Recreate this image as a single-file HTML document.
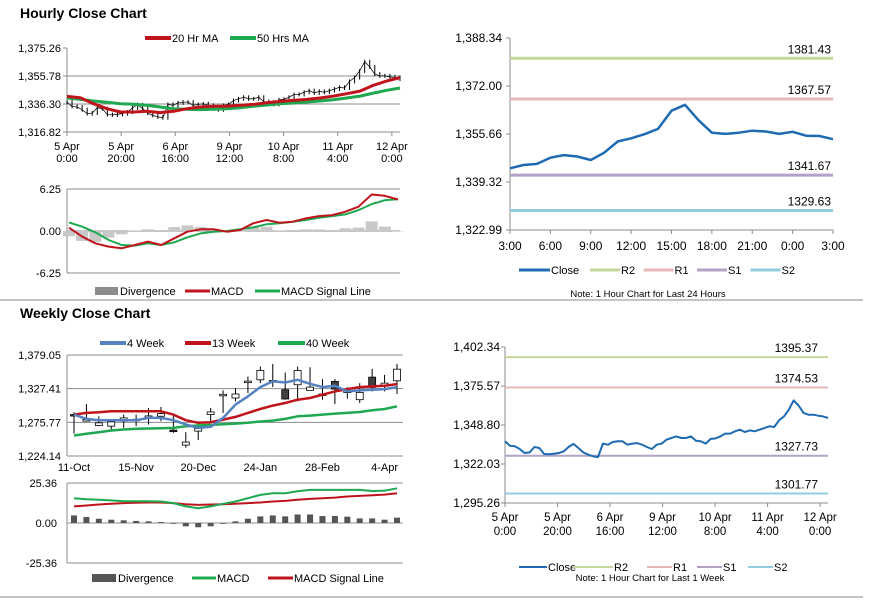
<!DOCTYPE html>
<html><head><meta charset="utf-8">
<style>
html,body{margin:0;padding:0;background:#fff;}
svg{display:block;font-family:"Liberation Sans",Arial,sans-serif;}
</style></head>
<body>
<svg id="chart" width="873" height="601" viewBox="0 0 873 601">
<text x="20" y="18" font-size="14" font-weight="bold" fill="#000">Hourly Close Chart</text>
<text x="20" y="318" font-size="14" font-weight="bold" fill="#000">Weekly Close Chart</text>
<line x1="0" y1="300" x2="863" y2="300" stroke="#888" stroke-width="1"/>
<line x1="0" y1="597" x2="863" y2="597" stroke="#888" stroke-width="1"/>
</svg>
<script>
// ---------- DATA ----------
const weekClose=[1337.6,1334.6,1334.2,1332.3,1329.6,1330.0,1333.7,1333.0,1328.9,1328.7,1329.1,1329.6,1330.7,1333.7,1335.8,1333.0,1330.0,1328.4,1327.3,1326.8,1336.0,1335.3,1337.1,1337.6,1337.6,1335.3,1336.0,1336.4,1335.3,1333.7,1332.3,1335.3,1336.0,1338.7,1339.9,1341.0,1339.9,1339.9,1341.0,1338.0,1337.6,1336.0,1339.2,1339.6,1341.0,1342.9,1342.9,1344.5,1345.6,1344.0,1345.1,1344.5,1345.6,1346.7,1347.9,1347.4,1352.0,1354.7,1359.3,1365.7,1362.1,1357.1,1355.9,1355.9,1355.2,1354.7,1353.6];
const ma20=[1341.6,1340.7,1336.5,1333.0,1330.7,1330.7,1331.2,1330.3,1331.2,1333.0,1334.2,1334.7,1334.7,1335.4,1336.0,1337.2,1338.1,1338.8,1339.5,1340.5,1341.8,1343.5,1345.3,1349.3,1352.3,1354.6];
const ma50=[1340.5,1339.5,1338.4,1337.5,1336.5,1336.1,1335.4,1334.2,1333.0,1332.6,1332.4,1332.6,1333.0,1333.7,1334.7,1335.6,1336.5,1337.0,1337.7,1338.4,1339.3,1340.5,1341.8,1343.9,1345.8,1347.4];
const hMacd=[0.49,-0.84,-1.83,-2.32,-2.57,-2.08,-1.58,-2.08,-1.09,-0.10,0.25,0.25,-0.10,0.15,1.14,1.63,1.24,1.38,1.88,2.22,2.37,2.87,3.61,5.43,5.24,4.69];
const hSignal=[1.28,0.64,-0.20,-1.33,-2.08,-2.17,-1.83,-2.08,-1.68,-0.94,-0.35,-0.10,0,0.25,0.54,0.99,1.14,1.38,1.63,1.98,2.22,2.47,3.11,4.00,4.59,4.74];
const hourTickTop=["5 Apr","5 Apr","6 Apr","9 Apr","10 Apr","11 Apr","12 Apr"];
const hourTickBot=["0:00","20:00","16:00","12:00","8:00","4:00","0:00"];
const hourTickHours=[0,20,40,60,80,100,120];
const hourSpan=123;
const hPriceTicks=[1316.82,1336.30,1355.78,1375.26];
const hMacdTicks=[-6.25,0,6.25];
const dayClose=[1344.0,1345.1,1345.5,1347.6,1348.5,1348.0,1346.8,1349.3,1353.1,1354.2,1355.6,1357.4,1363.6,1365.6,1360.4,1356.1,1355.7,1356.1,1356.8,1356.5,1355.7,1356.4,1355.1,1355.0,1353.9];
const dayTicks=["3:00","6:00","9:00","12:00","15:00","18:00","21:00","0:00","3:00"];
const dayYTicks=[1322.99,1339.32,1355.66,1372.00,1388.34];
const dayLevels=[1381.43,1367.57,1341.67,1329.63];
const weekLevels=[1395.37,1374.53,1327.73,1301.77];
const levelNames=["R2","R1","S1","S2"];
const wkYTicksR=[1295.26,1322.03,1348.80,1375.57,1402.34];
const wOpen=[1287.7,1279.0,1270.9,1269.9,1277.5,1280.0,1285.1,1285.1,1263.8,1240.9,1262.3,1287.7,1318.2,1313.1,1338.5,1341.0,1338.5,1325.8,1333.4,1324.8,1318.7,1338.5,1323.2,1310.5,1345.1,1331.9,1339.5];
const wClose=[1286.6,1280.0,1275.0,1276.5,1282.6,1280.5,1285.6,1289.2,1262.3,1245.5,1266.3,1291.7,1318.7,1319.2,1339.0,1355.3,1340.0,1311.6,1355.3,1329.8,1319.2,1326.8,1323.7,1321.7,1329.3,1335.9,1357.3];
const wHigh=[1291.2,1303.9,1285.1,1280.0,1287.7,1287.7,1297.8,1299.3,1287.7,1260.7,1277.5,1297.8,1324.8,1328.3,1346.1,1361.4,1365.4,1352.2,1361.4,1360.3,1342.0,1342.0,1329.8,1335.9,1357.8,1348.6,1365.4];
const wLow=[1258.7,1277.5,1269.9,1263.8,1267.3,1269.9,1272.4,1277.5,1259.7,1236.8,1248.5,1277.5,1290.2,1308.0,1320.7,1335.9,1329.8,1310.5,1308.0,1324.8,1310.5,1303.9,1312.0,1305.5,1323.2,1323.2,1319.2];
const w4=[1287.7,1281.1,1279.0,1279.0,1279.0,1279.0,1282.6,1282.6,1279.0,1272.4,1267.3,1268.9,1282.6,1302.9,1315.6,1329.8,1338.5,1336.9,1341.0,1334.9,1329.8,1331.9,1323.2,1324.8,1325.8,1326.8,1329.8];
const w13=[1287.7,1290.2,1291.2,1292.7,1292.7,1292.7,1292.7,1292.7,1287.7,1279.0,1275.0,1276.0,1280.0,1284.1,1290.2,1296.3,1301.4,1305.5,1310.5,1313.1,1318.2,1323.2,1326.8,1329.8,1330.9,1331.9,1334.4];
const w40=[1255.6,1258.2,1260.7,1263.3,1264.8,1265.8,1266.3,1266.8,1267.3,1269.9,1270.9,1271.9,1272.9,1273.9,1275.0,1277.0,1278.5,1281.1,1285.1,1286.1,1287.7,1289.2,1290.2,1291.7,1294.3,1296.3,1300.4];
const wMacd=[15.7,15.1,14.7,14.3,13.8,13.8,13.8,13.6,12.6,10.5,9.4,10.5,12.2,13.6,15.7,17.8,18.9,18.9,20.1,21.0,21.0,21.0,21.0,21.0,20.3,20.5,22.0];
const wSignal=[10.5,11.1,11.7,12.2,12.6,12.8,13.0,13.0,12.6,11.9,11.5,11.7,11.9,12.2,12.6,13.0,13.6,14.0,14.7,15.3,15.7,16.1,16.8,17.2,17.6,18.0,18.9];
const wDiv=[4.8,3.8,2.7,2.1,1.7,1.3,1.0,0.6,-0.3,-2.1,-2.7,-2.1,-0.2,1.0,2.7,4.2,4.8,4.2,5.4,5.4,4.4,4.4,4.0,2.9,2.9,2.1,3.4];
const wTickLabels=["11-Oct","15-Nov","20-Dec","24-Jan","28-Feb","4-Apr"];
const wTickIdx=[0,5,10,15,20,25];
const wYTicks=[1224.14,1275.77,1327.41,1379.05];
const wMacdTicks=[-25.36,0,25.36];

// ---------- HELPERS ----------
const NS='http://www.w3.org/2000/svg';
const svg=document.getElementById('chart');
function mk(tag,attrs){const e=document.createElementNS(NS,tag);for(const k in attrs)e.setAttribute(k,attrs[k]);svg.appendChild(e);return e;}
function lin(d0,d1,r0,r1){return v=>r0+(v-d0)/(d1-d0)*(r1-r0);}
function fmt(v){return v.toLocaleString('en-US',{minimumFractionDigits:2,maximumFractionDigits:2});}
function txt(x,y,s,anchor,size,name){
  const e=mk('text',{x:x,y:y,'text-anchor':anchor,'font-size':size,fill:'#000'});
  e.textContent=s;
  
  
  return e;
}
function poly(vals,xf,yf,color,w,name){
  const pts=vals.map((v,i)=>xf(i).toFixed(1)+','+yf(v).toFixed(1)).join(' ');
  const e=mk('polyline',{points:pts,fill:'none',stroke:color,'stroke-width':w,'stroke-linejoin':'round'});
  
  
  return e;
}
function hline(x1,x2,y,color,w,name){
  const e=mk('line',{x1:x1,x2:x2,y1:y,y2:y,stroke:color,'stroke-width':w});
  
  
  return e;
}
function vline(x,y1,y2,color,w,name){
  const e=mk('line',{x1:x,x2:x,y1:y1,y2:y2,stroke:color,'stroke-width':w});
  
  
  return e;
}
function legLine(x,y,len,color,w,label,name){
  hline(x,x+len,y,color,w,name+'-swatch');
  txt(x+len+1,y+4,label,'start',11,name);
}
function legBox(x,y,len,color,label,name){
  const r=mk('rect',{x:x,y:y-4,width:len,height:8,fill:color});
  
  
  txt(x+len+2,y+4,label,'start',11,name);
}
const GRID='#8c8c8c', C_RED='#c0141c', C_GRN='#1ea84f', C_BLUE='#5683c0', C_CLOSE='#1f6bb3';
const LV_COL=['#c4d79b','#e6b9b8','#b3a2c7','#93cddd'];

// ---------- HOURLY PRICE ----------
(function(){
  const L=67,R=400,T=48,B=132;
  const y=lin(hPriceTicks[0],hPriceTicks[hPriceTicks.length-1],B,T);
  const xh=lin(0,hourSpan,L,R);
  hPriceTicks.forEach((t,i)=>{
    if(i>0&&i<hPriceTicks.length-1)hline(L,R,y(t),GRID,1,'hourly-gridline');
    hline(L-4,L,y(t),GRID,1,'hourly-y-tick');
    txt(61,y(t)+4,fmt(t),'end',11,'hourly-y-label');
  });
  hline(L,R,B,GRID,1,'hourly-x-axis');
  vline(L,T,B,GRID,1,'hourly-y-axis');
  hourTickHours.forEach((h,i)=>{
    vline(xh(h),B,B+4,GRID,1,'hourly-x-tick');
    txt(xh(h),B+18,hourTickTop[i],'middle',11,'hourly-x-label');
    txt(xh(h),B+30,hourTickBot[i],'middle',11,'hourly-x-label');
  });
  const xi=i=>xh(i*hourSpan/(weekClose.length-1));
  poly(weekClose,xi,y,'#111',0.8,'hourly-price-line');
  weekClose.forEach((v,i)=>{
    const p=i>0?weekClose[i-1]:v;
    const top=Math.min(y(v),y(p))-2,bot=Math.max(y(v),y(p))+2;
    vline(xi(i),top,bot,'#000',1,'hourly-candle');
  });
  const xm=i=>lin(0,ma20.length-1,L,R)(i);
  poly(ma50,xm,y,C_GRN,3,'ma50-line');
  poly(ma20,xm,y,C_RED,3,'ma20-line');
  legLine(145,38,26,C_RED,4,'20 Hr MA','legend-20hr-ma');
  legLine(230,38,26,C_GRN,4,'50 Hrs MA','legend-50hrs-ma');
})();

// ---------- HOURLY MACD ----------
(function(){
  const L=67,R=400,T=189,B=273;
  const y=lin(hMacdTicks[0],hMacdTicks[2],B,T);
  hMacdTicks.forEach(t=>{
    hline(L,R,y(t),GRID,1,'hourly-macd-gridline');
    txt(61,y(t)+4,t.toFixed(2),'end',11,'hourly-macd-y-label');
  });
  vline(L,T,B,GRID,1,'hourly-macd-y-axis');
  const x=lin(0,hMacd.length-1,L+2,R-2);
  hMacd.forEach((v,i)=>{
    const d=v-hSignal[i];
    const r=mk('rect',{x:x(i)-6,y:Math.min(y(d),y(0)),width:12,height:Math.abs(y(d)-y(0)),fill:'#c8c8c8'});
    
    
  });
  poly(hSignal,x,y,C_GRN,2,'hourly-macd-signal-line');
  poly(hMacd,x,y,C_RED,2,'hourly-macd-line');
  legBox(95,291,23,'#8c8c8c','Divergence','legend-hourly-divergence');
  legLine(185,291,25,C_RED,3,'MACD','legend-hourly-macd');
  legLine(255,291,25,C_GRN,3,'MACD Signal Line','legend-hourly-signal');
})();

// ---------- 24H CHART ----------
(function(){
  const L=510,R=833,T=38,B=230;
  const y=lin(dayYTicks[0],dayYTicks[dayYTicks.length-1],B,T);
  const x=lin(0,dayClose.length-1,L,R);
  dayYTicks.forEach(t=>{
    hline(L-4,L,y(t),GRID,1,'day-y-tick');
    txt(502,y(t)+4,fmt(t),'end',12,'day-y-label');
  });
  vline(L,T,B,GRID,1,'day-y-axis');
  hline(L,R,B,GRID,1,'day-x-axis');
  dayTicks.forEach((s,i)=>{
    vline(x(i*3),B,B+4,GRID,1,'day-x-tick');
    txt(x(i*3),B+20,s,'middle',12,'day-x-label');
  });
  dayLevels.forEach((v,i)=>{
    hline(L,R,y(v),LV_COL[i],3,'day-level-'+levelNames[i].toLowerCase());
    txt(831,y(v)-5,v.toFixed(2),'end',12,'day-level-label');
  });
  poly(dayClose,x,y,C_CLOSE,2.5,'day-close-line');
  legLine(519,270,31,C_CLOSE,3,'Close','legend-day-close');
  levelNames.forEach((n,i)=>{
    legLine(590+i*53.5,270,30,LV_COL[i],3,n,'legend-day-'+n.toLowerCase());
  });
  txt(648,297,'Note: 1 Hour Chart for Last 24 Hours','middle',9.5,'day-note');
})();

// ---------- WEEK CHART ----------
(function(){
  const L=505,R=828,T=347,B=503;
  const y=lin(wkYTicksR[0],wkYTicksR[wkYTicksR.length-1],B,T);
  const xh=lin(0,hourSpan,L,R);
  wkYTicksR.forEach(t=>{
    hline(L-4,L,y(t),GRID,1,'week-y-tick');
    txt(500,y(t)+4,fmt(t),'end',12,'week-y-label');
  });
  vline(L,T,B,GRID,1,'week-y-axis');
  hline(L,R,B,GRID,1,'week-x-axis');
  hourTickHours.forEach((h,i)=>{
    vline(xh(h),B,B+4,GRID,1,'week-x-tick');
    txt(xh(h),B+18,hourTickTop[i],'middle',11.5,'week-x-label');
    txt(xh(h),B+32,hourTickBot[i],'middle',11.5,'week-x-label');
  });
  weekLevels.forEach((v,i)=>{
    hline(L,R,y(v),LV_COL[i],2,'week-level-'+levelNames[i].toLowerCase());
    txt(818,y(v)-5,v.toFixed(2),'end',12,'week-level-label');
  });
  const xi=i=>xh(i*hourSpan/(weekClose.length-1));
  poly(weekClose,xi,y,C_CLOSE,2,'week-close-line');
  legLine(519,567,28,C_CLOSE,2,'Close','legend-week-close');
  const lx=[573,647,697,748];
  levelNames.forEach((n,i)=>{
    legLine(lx[i],567,i===0?40:25,LV_COL[i],2,n,'legend-week-'+n.toLowerCase());
  });
  txt(650,581,'Note: 1 Hour Chart for Last 1 Week','middle',9.5,'week-note');
})();

// ---------- WEEKLY CANDLES ----------
(function(){
  const L=67,R=403,T=355,B=456;
  const y=lin(wYTicks[0],wYTicks[wYTicks.length-1],B,T);
  const x=lin(0,26,74,397);
  wYTicks.forEach((t,i)=>{
    hline(L,R,y(t),GRID,1,'weekly-gridline');
    txt(61,y(t)+4,fmt(t),'end',11,'weekly-y-label');
  });
  vline(L,T,B,GRID,1,'weekly-y-axis');
  wTickIdx.forEach((k,i)=>{
    txt(x(k),B+15,wTickLabels[i],'middle',11,'weekly-x-label');
  });
  wOpen.forEach((o,i)=>{
    const c=wClose[i];
    vline(x(i),y(wHigh[i]),y(wLow[i]),'#000',1,'weekly-candle-wick');
    const top=y(Math.max(o,c)),h=Math.max(1.5,Math.abs(y(o)-y(c)));
    const r=mk('rect',{x:x(i)-3.5,y:top,width:7,height:h,fill:c>=o?'#fff':'#404040',stroke:'#000','stroke-width':0.8});
    
    
  });
  poly(w40,x,y,C_GRN,2.5,'weekly-40wk-line');
  poly(w13,x,y,C_RED,2.5,'weekly-13wk-line');
  poly(w4,x,y,C_BLUE,2.5,'weekly-4wk-line');
  legLine(100,343,26,C_BLUE,4,'4 Week','legend-4-week');
  legLine(185,343,26,C_RED,4,'13 Week','legend-13-week');
  legLine(278,343,27,C_GRN,4,'40 Week','legend-40-week');
})();

// ---------- WEEKLY MACD ----------
(function(){
  const L=67,R=403,T=483,B=563;
  const y=lin(wMacdTicks[0],wMacdTicks[2],B,T);
  const x=lin(0,26,74,397);
  wMacdTicks.forEach(t=>{
    hline(L,R,y(t),GRID,1,'weekly-macd-gridline');
    txt(57,y(t)+4,t.toFixed(2),'end',11,'weekly-macd-y-label');
  });
  vline(L,T,B,GRID,1,'weekly-macd-y-axis');
  wDiv.forEach((d,i)=>{
    const r=mk('rect',{x:x(i)-3,y:Math.min(y(d),y(0)),width:6,height:Math.max(0.8,Math.abs(y(d)-y(0))),fill:'#555'});
    
    
  });
  poly(wSignal,x,y,C_RED,2,'weekly-macd-signal-line');
  poly(wMacd,x,y,C_GRN,2,'weekly-macd-line');
  legBox(92,578,24,'#555','Divergence','legend-weekly-divergence');
  legLine(192,578,24,C_GRN,3,'MACD','legend-weekly-macd');
  legLine(268,578,25,C_RED,3,'MACD Signal Line','legend-weekly-signal');
})();
</script>
</body></html>
